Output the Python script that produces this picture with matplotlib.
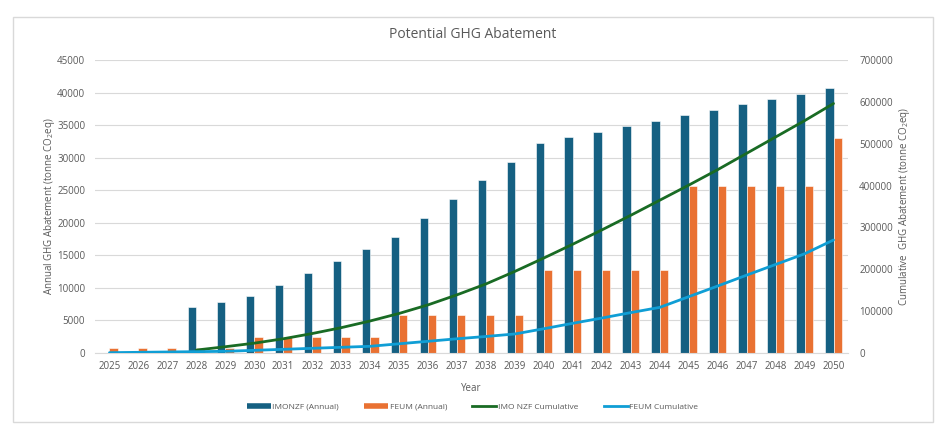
import matplotlib
matplotlib.use("Agg")
import matplotlib.pyplot as plt
import numpy as np
from matplotlib.lines import Line2D
from matplotlib.patches import Rectangle

plt.rcParams.update({'font.family': 'Open Sans', 'font.size': 7,
                     'mathtext.fontset': 'custom', 'mathtext.rm': 'Open Sans',
                     'mathtext.it': 'Open Sans', 'mathtext.bf': 'Open Sans'})

txt = "#595959"
grid_c = "#d9d9d9"

years = list(range(2025, 2051))

# annual abatement (tonne CO2eq)
imo_annual = [0, 0, 0, 7000, 7900, 8700, 10500, 12300, 14200, 16000, 17800,
              20800, 23600, 26500, 29400, 32300, 33200, 34000, 34800, 35600,
              36500, 37300, 38200, 39000, 39800, 40700]
feum_annual = [800, 800, 800, 800, 800, 2400, 2400, 2400, 2400, 2400, 5900,
               5900, 5900, 5900, 5900, 12700, 12700, 12700, 12700, 12700,
               25600, 25600, 25600, 25600, 25600, 33000]

# cumulative lines (right axis)
imo_years = list(range(2028, 2051))
imo_cum = [7000, 15000, 23500, 34000, 46500, 60500, 76500, 94500, 115000,
           139000, 165000, 195000, 227000, 260000, 294000, 329000, 365000,
           401000, 438000, 477000, 516000, 555000, 596000]
feum_cum = [800, 1600, 2400, 3200, 4000, 6400, 8800, 11200, 13600, 16000,
            22000, 28000, 34000, 39500, 45500, 58000, 71000, 83500, 96500,
            109000, 134500, 160000, 186000, 211500, 237000, 270000]

fig = plt.figure(figsize=(9.45, 4.28), dpi=100)
ax = fig.add_axes([95/945, 75/428, 753/945, 293/428])
ax2 = ax.twinx()

x = np.arange(len(years))
w = 0.29
ax.bar(x - w/2, imo_annual, w, color="#156082", edgecolor="#ffffff", lw=0.4, zorder=2)
ax.bar(x + w/2, feum_annual, w, color="#E97132", edgecolor="#ffffff", lw=0.4, zorder=2)

xi = [years.index(y) for y in imo_years]
ax2.plot(xi, imo_cum, color="#196B24", lw=2, solid_capstyle="round")
ax2.plot(x, feum_cum, color="#0F9ED5", lw=2, solid_capstyle="round")

ax.set_xlim(-0.5, len(years) - 0.5)
ax.set_ylim(0, 45000)
ax2.set_ylim(0, 700000)
ax.set_yticks(np.arange(0, 45001, 5000))
ax2.set_yticks(np.arange(0, 700001, 100000))
ax.set_xticks(x)
ax.set_xticklabels([str(y) for y in years])

ax.yaxis.grid(True, color=grid_c, lw=0.8, zorder=0)
ax.set_axisbelow(True)
for a in (ax, ax2):
    for s in a.spines.values():
        s.set_visible(False)
    a.tick_params(length=0, colors=txt, labelsize=7)
ax.spines['bottom'].set_visible(True)
ax.spines['bottom'].set_color(grid_c)
ax.tick_params(axis='y', pad=7)
ax2.tick_params(axis='y', pad=8)
ax.tick_params(axis='x', pad=6)

ax.set_xlabel("Year", color=txt, fontsize=7, labelpad=8)
ax.set_ylabel("Annual GHG Abatement (tonne CO$_2$eq)", color=txt, fontsize=7, labelpad=0)
ax2.set_ylabel("Cumulative  GHG Abatement (tonne CO$_2$eq)", color=txt, fontsize=7, labelpad=3)

fig.text(0.5, 1 - 35/428, "Potential GHG Abatement", ha="center", va="center",
         color=txt, fontsize=10)

handles = [Line2D([], [], color="#156082", lw=4, solid_capstyle="butt"),
           Line2D([], [], color="#E97132", lw=4, solid_capstyle="butt"),
           Line2D([], [], color="#196B24", lw=2),
           Line2D([], [], color="#0F9ED5", lw=2)]
labels = ["IMONZF (Annual)", "FEUM (Annual)", "IMO NZF Cumulative", "FEUM Cumulative"]
leg = fig.legend(handles, labels, loc="center", bbox_to_anchor=(0.5, 21/428), ncol=4,
                 frameon=False, fontsize=6, handlelength=2.9, handletextpad=0.2,
                 columnspacing=3.0)
for t in leg.get_texts():
    t.set_color(txt)

fig.patches.append(Rectangle((13/945, 6/428), 920/945, 405/428, transform=fig.transFigure,
                             fill=False, edgecolor=grid_c, lw=1))

fig.savefig("out.png", dpi=100)
